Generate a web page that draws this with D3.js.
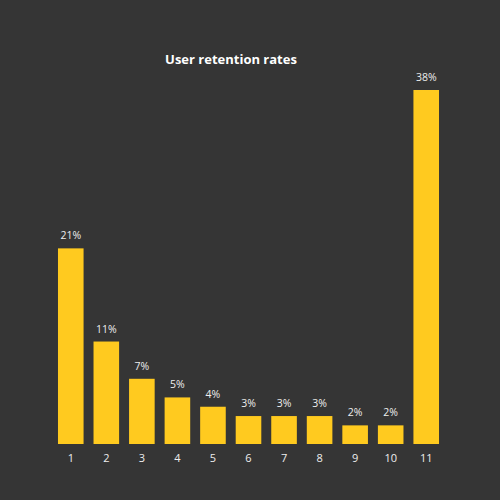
<!DOCTYPE html>
<html>
<head>
<meta charset="utf-8">
<script src="https://cdn.jsdelivr.net/npm/d3@7"></script>
<style>
  html, body { margin: 0; padding: 0; background: #353535; }
  text { font-family: "Open Sans", Lato, sans-serif; }
</style>
</head>
<body>
<div id="chart"></div>
<script>

var categories = ["1", "2", "3", "4", "5", "6", "7", "8", "9", "10", "11"];
var retention = [21, 11, 7, 5, 4, 3, 3, 3, 2, 2, 38];
var valueLabels = ["21%", "11%", "7%", "5%", "4%", "3%", "3%", "3%", "2%", "2%", "38%"];

var width = 500, height = 500;

var svg = d3.select("#chart")
  .append("svg")
  .attr("width", width)
  .attr("height", height);

svg.append("rect")
  .attr("width", width)
  .attr("height", height)
  .attr("fill", "#353535");

var x = d3.scaleBand()
  .domain(categories)
  .range([53, 444])
  .paddingInner(0.28)
  .paddingOuter(0.14);

var y = d3.scaleLinear()
  .domain([0, 38])
  .range([444, 90]);

var data = categories.map(function(c, i) {
  return { cat: c, value: retention[i], label: valueLabels[i] };
});

svg.append("text")
  .attr("x", 231)
  .attr("y", 64)
  .attr("text-anchor", "middle")
  .attr("fill", "#ffffff")
  .attr("font-size", 13)
  .attr("font-weight", "bold")
  .text("User retention rates");

svg.selectAll(".bar")
  .data(data)
  .enter().append("rect")
  .attr("class", "bar")
  .attr("x", function(d) { return x(d.cat); })
  .attr("y", function(d) { return y(d.value); })
  .attr("width", x.bandwidth())
  .attr("height", function(d) { return y(0) - y(d.value); })
  .attr("fill", "#ffca1f");

svg.selectAll(".val")
  .data(data)
  .enter().append("text")
  .attr("class", "val")
  .attr("x", function(d) { return x(d.cat) + x.bandwidth() / 2; })
  .attr("y", function(d) { return y(d.value) - 9; })
  .attr("text-anchor", "middle")
  .attr("fill", "#eeeeee")
  .attr("font-size", 10.5)
  .text(function(d) { return d.label; });

var axis = svg.append("g")
  .attr("transform", "translate(0,444)")
  .call(d3.axisBottom(x).tickSize(0).tickPadding(10));

axis.select(".domain").remove();
axis.selectAll("text")
  .attr("fill", "#eeeeee")
  .attr("font-size", 11)
  .attr("font-family", "\"Open Sans\", Lato, sans-serif");

</script>
</body>
</html>
